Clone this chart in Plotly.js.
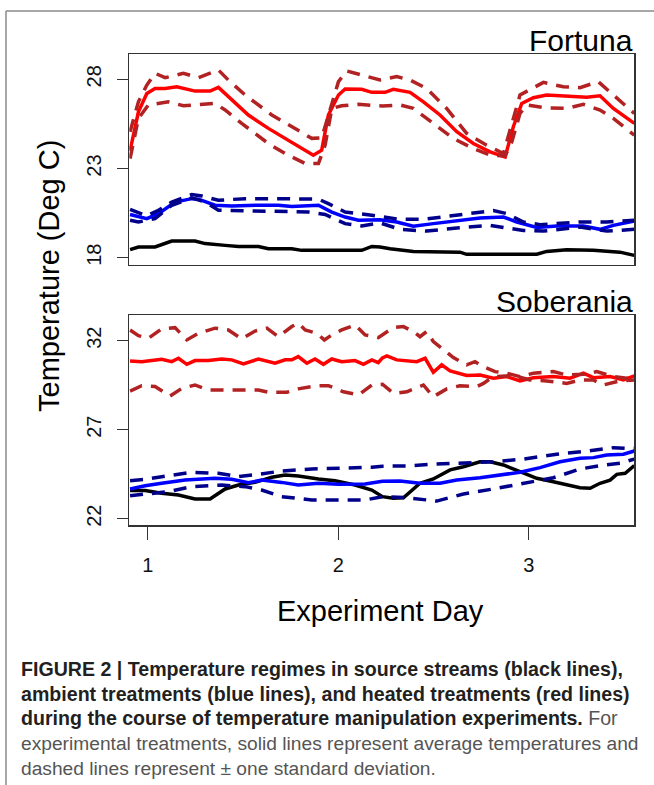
<!DOCTYPE html>
<html><head><meta charset="utf-8">
<script src="https://cdn.plot.ly/plotly-3.0.1.min.js"></script>
<style>html,body{margin:0;padding:0;background:#fff;} #chart{width:654px;height:785px;}</style>
</head><body><div id="chart"></div>
<script>
// ---------- Fortuna ----------
const fortunaSourceDay = [0.907,0.951,1.038,1.126,1.248,1.301,1.406,1.476,1.581,1.633,1.756,1.808,2.123,2.176,2.219,2.272,2.394,2.639,2.674,3.042,3.094,3.199,3.339,3.479,3.554];
const fortunaSourceTemp = [18.45,18.6,18.6,18.93,18.93,18.79,18.69,18.63,18.63,18.5,18.5,18.41,18.41,18.63,18.6,18.5,18.35,18.31,18.19,18.19,18.35,18.45,18.41,18.31,18.13];

const fortunaAmbientMeanDay = [0.907,0.995,1.056,1.143,1.231,1.266,1.353,1.441,1.581,1.686,1.756,1.896,1.966,2.036,2.106,2.219,2.307,2.394,2.499,2.622,2.744,2.867,2.937,3.042,3.147,3.287,3.374,3.444,3.554];
const fortunaAmbientMean = [20.42,20.19,20.47,21.12,21.31,21.28,20.94,20.9,20.94,20.94,20.87,20.94,20.56,20.28,20.1,20.13,20.0,19.76,19.91,20.06,20.22,20.28,20.0,19.69,19.78,19.78,19.59,19.81,20.06];

const fortunaAmbientUpperDay = [0.907,0.995,1.056,1.126,1.231,1.284,1.371,1.511,1.721,1.896,1.948,2.036,2.176,2.219,2.324,2.447,2.622,2.814,2.885,2.972,3.059,3.147,3.269,3.409,3.479,3.554];
const fortunaAmbientUpper = [20.71,20.34,20.66,21.12,21.54,21.46,21.22,21.31,21.31,21.28,21.03,20.56,20.38,20.3,20.15,20.15,20.38,20.64,20.47,20.0,19.85,19.91,20.0,20.0,20.06,20.1];

const fortunaAmbientLowerDay = [0.907,0.951,1.038,1.126,1.231,1.301,1.371,1.546,1.686,1.843,1.931,2.036,2.123,2.219,2.324,2.464,2.622,2.797,2.972,3.077,3.269,3.409,3.479,3.554];
const fortunaAmbientLower = [20.1,20.0,20.19,20.94,21.35,21.12,20.66,20.62,20.62,20.56,20.42,19.91,19.78,19.95,19.59,19.49,19.66,19.81,19.53,19.49,19.72,19.49,19.53,19.6];

const fortunaHeatedMeanDay = [0.907,0.951,0.995,1.038,1.091,1.152,1.248,1.327,1.371,1.441,1.528,1.633,1.738,1.817,1.869,1.913,1.948,2.001,2.036,2.123,2.176,2.246,2.289,2.377,2.447,2.534,2.622,2.709,2.797,2.876,2.919,2.963,3.024,3.094,3.199,3.304,3.374,3.444,3.554];
const fortunaHeatedMean = [24.0,26.18,27.21,27.49,27.49,27.58,27.34,27.34,27.55,26.84,26.0,25.25,24.59,24.12,23.75,24.03,26.0,27.12,27.46,27.44,27.27,27.27,27.44,27.27,26.74,26.0,25.06,24.4,23.93,23.65,25.34,26.65,26.97,27.12,27.04,27.0,27.08,26.37,25.53];

const fortunaHeatedUpperDay = [0.907,0.951,0.995,1.038,1.091,1.187,1.266,1.371,1.423,1.511,1.651,1.756,1.861,1.913,2.001,2.045,2.141,2.219,2.307,2.377,2.464,2.569,2.674,2.779,2.867,2.954,3.077,3.182,3.269,3.365,3.444,3.554];
const fortunaHeatedUpper = [25.06,26.74,27.68,28.34,28.09,28.34,28.09,28.52,27.96,27.12,26.0,25.34,24.69,24.72,27.87,28.47,28.2,27.96,28.15,27.96,27.49,26.37,24.97,24.31,23.84,27.12,27.83,27.58,27.53,27.87,27.12,26.09];

const fortunaHeatedLowerDay = [0.907,0.951,1.003,1.056,1.108,1.187,1.266,1.353,1.406,1.493,1.633,1.721,1.826,1.896,1.931,1.966,2.018,2.106,2.232,2.324,2.394,2.499,2.604,2.709,2.797,2.876,2.911,2.954,2.989,3.094,3.199,3.287,3.374,3.444,3.554];
const fortunaHeatedLower = [23.56,25.81,26.56,26.65,26.74,26.52,26.6,26.65,26.28,25.53,24.4,23.84,23.28,23.28,24.31,26.37,26.52,26.6,26.5,26.56,26.37,25.53,24.69,24.12,23.75,23.71,24.49,26.09,26.56,26.4,26.37,26.6,26.28,25.81,24.87];

// ---------- Soberania ----------
const soberaniaSourceDay = [0.907,0.986,1.073,1.161,1.248,1.327,1.406,1.476,1.563,1.651,1.721,1.790,1.896,1.983,2.088,2.176,2.232,2.289,2.342,2.429,2.499,2.587,2.657,2.744,2.797,2.867,2.954,3.042,3.129,3.199,3.269,3.322,3.374,3.427,3.462,3.506,3.554];
const soberaniaSourceTemp = [23.58,23.58,23.43,23.33,23.11,23.11,23.67,23.89,24.04,24.33,24.46,24.40,24.23,24.13,23.89,23.61,23.24,23.15,23.18,23.99,24.23,24.74,24.92,25.20,25.20,25.02,24.64,24.27,24.08,23.89,23.74,23.71,23.99,24.17,24.49,24.55,24.98];

const soberaniaAmbientMeanDay = [0.907,0.986,1.073,1.196,1.353,1.441,1.528,1.598,1.703,1.790,1.896,2.001,2.141,2.232,2.324,2.429,2.534,2.622,2.744,2.849,2.954,3.059,3.164,3.269,3.339,3.409,3.497,3.554];
const soberaniaAmbientMean = [23.67,23.85,23.99,24.17,24.27,24.21,24.02,24.17,24.04,23.89,23.99,23.93,23.95,24.1,24.12,23.99,23.99,24.17,24.30,24.46,24.61,24.87,25.20,25.39,25.43,25.58,25.62,25.80];

const soberaniaAmbientUpperDay = [0.907,0.986,1.073,1.231,1.371,1.476,1.581,1.703,1.861,2.036,2.176,2.232,2.360,2.499,2.657,2.814,2.972,3.147,3.304,3.444,3.523,3.554];
const soberaniaAmbientUpper = [24.13,24.21,24.36,24.61,24.55,24.36,24.49,24.68,24.79,24.83,24.89,24.95,24.96,25.06,25.11,25.20,25.35,25.62,25.80,25.99,25.95,25.95];

const soberaniaAmbientLowerDay = [0.907,0.986,1.108,1.231,1.388,1.511,1.598,1.703,1.861,2.018,2.141,2.232,2.360,2.517,2.657,2.814,2.972,3.129,3.269,3.374,3.479,3.554];
const soberaniaAmbientLower = [23.29,23.37,23.52,23.80,23.89,23.80,23.61,23.24,23.05,23.05,23.05,23.24,23.18,22.99,23.39,23.67,23.99,24.30,24.79,24.98,25.11,25.35];

const soberaniaHeatedMeanDay = [0.907,0.968,1.021,1.073,1.126,1.161,1.205,1.248,1.318,1.388,1.441,1.502,1.581,1.668,1.721,1.756,1.790,1.835,1.878,1.922,1.966,2.018,2.088,2.132,2.176,2.210,2.232,2.255,2.307,2.412,2.456,2.499,2.543,2.587,2.674,2.744,2.814,2.885,2.954,3.024,3.129,3.217,3.287,3.339,3.427,3.497,3.554];
const soberaniaHeatedMean = [30.86,30.82,30.88,30.95,30.82,31.01,30.67,30.88,30.88,30.97,30.92,30.69,30.97,30.73,30.92,30.92,31.10,30.73,30.97,30.67,30.97,30.82,30.88,30.67,30.92,30.77,31.03,31.14,30.92,30.82,31.01,30.22,30.64,30.30,30.04,30.07,29.89,29.98,29.74,29.92,29.98,29.89,30.17,29.92,29.98,29.79,30.02];

const soberaniaHeatedUpperDay = [0.907,0.951,1.003,1.073,1.143,1.205,1.266,1.353,1.423,1.493,1.563,1.625,1.686,1.756,1.790,1.826,1.887,1.927,1.966,2.018,2.088,2.141,2.210,2.240,2.289,2.342,2.394,2.429,2.464,2.499,2.552,2.604,2.674,2.718,2.762,2.823,2.885,2.954,3.024,3.129,3.199,3.287,3.357,3.444,3.514,3.554];
const soberaniaHeatedUpper = [32.6,32.28,32.13,32.66,32.73,32.04,32.41,32.70,32.60,32.10,32.54,32.70,32.22,32.79,32.98,32.60,32.41,32.04,32.32,32.60,32.88,32.32,32.17,32.4,32.73,32.79,32.51,32.22,32.51,31.95,31.48,31.05,30.64,30.82,30.54,30.26,30.17,29.98,30.17,30.26,30.07,30.11,30.26,29.98,29.89,29.98];

const soberaniaHeatedLowerDay = [0.907,0.968,1.038,1.117,1.179,1.248,1.318,1.406,1.493,1.581,1.633,1.730,1.790,1.878,1.948,2.027,2.106,2.176,2.232,2.289,2.360,2.447,2.499,2.569,2.639,2.727,2.762,2.814,2.919,3.007,3.094,3.199,3.269,3.339,3.392,3.479,3.554];
const soberaniaHeatedLower = [29.17,29.47,29.42,28.89,29.32,29.51,29.23,29.23,29.19,29.23,29.10,29.10,29.29,29.46,29.47,29.13,28.95,29.51,29.55,29.04,29.13,29.51,28.85,29.29,29.47,29.42,29.60,29.98,30.04,29.79,29.74,29.60,29.79,29.79,29.51,29.74,29.79];

const panelTitles = ['Fortuna', 'Soberania'];
const fortunaTicks = [18, 23, 28];
const soberaniaTicks = [22, 27, 32];
const dayTicks = [1, 2, 3];
const yTitle = 'Temperature (Deg C)';
const xTitle = 'Experiment Day';
const captionLines = [
  '<b>FIGURE 2 | Temperature regimes in source streams (black lines),</b>',
  '<b>ambient treatments (blue lines), and heated treatments (red lines)</b>',
  '<b>during the course of temperature manipulation experiments.</b> <span style="color:#555555">For</span>',
  'experimental treatments, solid lines represent average temperatures and',
  'dashed lines represent \u00b1 one standard deviation.'
];

// ---------- styling / layout ----------
const W = 654, H = 785;
const px = v => v / W;           // pixel -> paper x
const py = v => 1 - v / H;       // pixel -> paper y
const FONT = 'Liberation Sans, Arial, Helvetica, sans-serif';
const LW = 3.5;
const DASH = '13px,9px';

function tr(x, y, color, dash, ax) {
  return {x: x, y: y, type: 'scatter', mode: 'lines', xaxis: ax[0], yaxis: ax[1],
    line: {color: color, width: LW, dash: dash || 'solid'}, hoverinfo: 'skip'};
}
const A1 = ['x', 'y'], A2 = ['x2', 'y2'];
const data = [
  tr(fortunaSourceDay, fortunaSourceTemp, '#000000', null, A1),
  tr(fortunaAmbientMeanDay, fortunaAmbientMean, '#0000ff', null, A1),
  tr(fortunaAmbientUpperDay, fortunaAmbientUpper, '#00008b', DASH, A1),
  tr(fortunaAmbientLowerDay, fortunaAmbientLower, '#00008b', DASH, A1),
  tr(fortunaHeatedMeanDay, fortunaHeatedMean, '#ff0000', null, A1),
  tr(fortunaHeatedUpperDay, fortunaHeatedUpper, '#b22222', DASH, A1),
  tr(fortunaHeatedLowerDay, fortunaHeatedLower, '#b22222', DASH, A1),
  tr(soberaniaSourceDay, soberaniaSourceTemp, '#000000', null, A2),
  tr(soberaniaAmbientMeanDay, soberaniaAmbientMean, '#0000ff', null, A2),
  tr(soberaniaAmbientUpperDay, soberaniaAmbientUpper, '#00008b', DASH, A2),
  tr(soberaniaAmbientLowerDay, soberaniaAmbientLower, '#00008b', DASH, A2),
  tr(soberaniaHeatedMeanDay, soberaniaHeatedMean, '#ff0000', null, A2),
  tr(soberaniaHeatedUpperDay, soberaniaHeatedUpper, '#b22222', DASH, A2),
  tr(soberaniaHeatedLowerDay, soberaniaHeatedLower, '#b22222', DASH, A2)
];

const xDom = [px(129.3), px(634.3)];
const boxAxis = {showline: true, mirror: true, linecolor: '#333', linewidth: 1.3,
  showgrid: false, zeroline: false, fixedrange: true};
const layout = {
  width: W, height: H, margin: {l: 0, r: 0, t: 0, b: 0},
  paper_bgcolor: '#fff', plot_bgcolor: '#fff', showlegend: false,
  font: {family: FONT, color: '#000'},
  xaxis: Object.assign({}, boxAxis, {domain: xDom, anchor: 'y', range: [0.903, 3.554],
    showticklabels: false, ticks: ''}),
  yaxis: Object.assign({}, boxAxis, {domain: [py(265), py(54)], anchor: 'x', range: [17.59, 29.42],
    tickvals: fortunaTicks, ticktext: fortunaTicks.map(String), ticks: 'outside', ticklen: 11,
    tickwidth: 1.3, tickcolor: '#333', tickangle: -90, tickfont: {size: 20, color: '#111'},
    ticklabelstandoff: 8}),
  xaxis2: Object.assign({}, boxAxis, {domain: xDom, anchor: 'y2', range: [0.903, 3.554],
    tickvals: dayTicks, ticktext: dayTicks.map(String), ticks: 'outside', ticklen: 13,
    tickwidth: 1.3, tickcolor: '#333', tickfont: {size: 20, color: '#111'}, ticklabelstandoff: 8}),
  yaxis2: Object.assign({}, boxAxis, {domain: [py(525.3), py(315)], anchor: 'x2', range: [21.63, 33.44],
    tickvals: soberaniaTicks, ticktext: soberaniaTicks.map(String), ticks: 'outside', ticklen: 11,
    tickwidth: 1.3, tickcolor: '#333', tickangle: -90, tickfont: {size: 20, color: '#111'},
    ticklabelstandoff: 8}),
  shapes: [
    {type: 'line', xref: 'paper', yref: 'paper', x0: px(6), x1: 1, y0: py(11), y1: py(11), line: {color: '#8a8a8a', width: 1.5}},
    {type: 'line', xref: 'paper', yref: 'paper', x0: px(6), x1: px(6), y0: py(11), y1: 0, line: {color: '#8a8a8a', width: 1.5}}
  ],
  annotations: [
    {text: panelTitles[0], xref: 'paper', yref: 'paper', x: px(635), y: py(41), xanchor: 'right', yanchor: 'middle', showarrow: false, font: {size: 30, color: '#000'}},
    {text: panelTitles[1], xref: 'paper', yref: 'paper', x: px(635), y: py(301), xanchor: 'right', yanchor: 'middle', showarrow: false, font: {size: 30, color: '#000'}},
    {text: yTitle, xref: 'paper', yref: 'paper', x: px(49), y: py(276), xanchor: 'center', yanchor: 'middle', textangle: -90, showarrow: false, font: {size: 29, color: '#000'}},
    {text: xTitle, xref: 'paper', yref: 'paper', x: px(381), y: py(611), xanchor: 'center', yanchor: 'middle', showarrow: false, font: {size: 29, color: '#000'}}
  ]
};
const capY = [669, 693.5, 718, 743, 768];
captionLines.forEach((t, i) => {
  layout.annotations.push({text: t, xref: 'paper', yref: 'paper', x: px(19), y: py(capY[i]),
    xanchor: 'left', yanchor: 'middle', align: 'left', showarrow: false,
    font: {size: i < 3 ? 19.6 : 19.2, color: i < 3 ? '#231f20' : '#555555', family: FONT}});
});

Plotly.newPlot('chart', data, layout, {displayModeBar: false, staticPlot: true});
</script></body></html>
